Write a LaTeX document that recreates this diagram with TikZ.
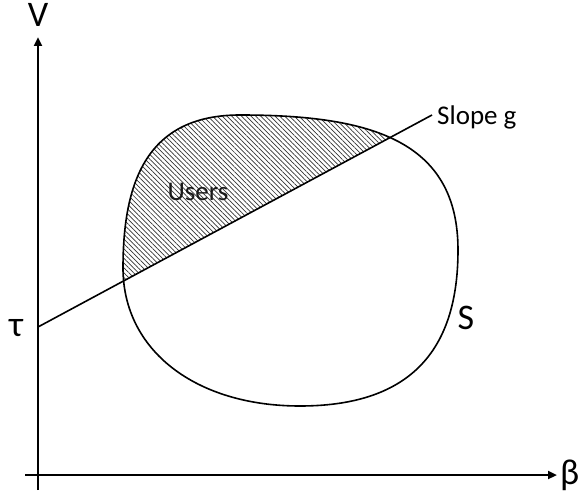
\documentclass[tikz,border=0pt]{standalone}
\usepackage{fontspec}
\setmainfont{Carlito}
\usetikzlibrary{arrows.meta,patterns.meta}
\begin{document}
\begin{tikzpicture}[x=1pt,y=-1pt,
  axis/.style={line width=2.4pt,-{Triangle[length=9pt,width=8pt]}},
  curve/.style={line width=1.6pt},
  biglbl/.style={font=\fontsize{36}{36}\selectfont,inner sep=0pt},
  smalllbl/.style={font=\fontsize{27}{27}\selectfont,inner sep=0pt},
  hatch/.style={pattern={Lines[angle=-45,distance=3.4pt,line width=0.7pt]},pattern color=black!80}]
\useasboundingbox (0,0) rectangle (579,495);
\def\blob{(123,268) .. controls (123,180) and (148,115) .. (240,115)
  .. controls (370,115) and (458,140) .. (458,250)
  .. controls (458,340) and (420,406) .. (300,406)
  .. controls (195,406) and (123,350) .. (123,268) -- cycle}
% hatched region
\begin{scope}
  \clip \blob;
  \fill[hatch] (38,327) -- (600,24.6) -- (600,0) -- (38,0) -- cycle;
\end{scope}
\draw[curve] \blob;
% axes
\coordinate (ybot) at (38,490);
\coordinate (xleft) at (25,475);
\coordinate (ytip) at (38,37);
\coordinate (xtip) at (557,475);
\draw[axis] (ybot) -- (ytip);
\draw[axis] (xleft) -- (xtip);
% slope line
\coordinate (t) at (38,327);
\coordinate (g) at (432,115);
\draw[curve] (t) -- (g);
% labels
\node[biglbl] (V) at (38,15) {V};
\node[biglbl,anchor=west] (beta) at (560,475) {β};
\node[biglbl] (tau) at (16,328) {τ};
\node[biglbl] (S) at (466,318) {S};
\node[smalllbl,anchor=west] (sg) at (437,117) {Slope g};
\node[smalllbl,text=black!90] (users) at (198,192) {Users};
\end{tikzpicture}
\end{document}
